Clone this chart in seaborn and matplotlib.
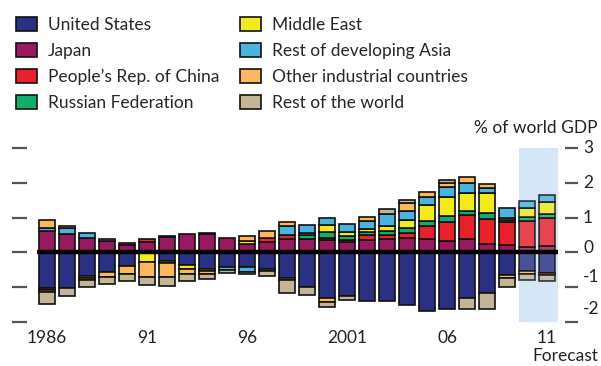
import numpy as np
import seaborn as sns
import matplotlib.pyplot as plt
from matplotlib.patches import Patch

# current account balances, % of world GDP (1986-2011, 2010-11 forecast)
years = np.arange(1986, 2012)
us = [-1.03, -1.01, -0.68, -0.55, -0.39, 0.0, -0.24, -0.37, -0.48, -0.41, -0.43, -0.48, -0.74,
      -0.99, -1.30, -1.24, -1.41, -1.41, -1.51, -1.67, -1.64, -1.31, -1.16, -0.64, -0.54, -0.59]
japan = [0.61, 0.52, 0.42, 0.33, 0.22, 0.31, 0.43, 0.54, 0.53, 0.41, 0.24, 0.31, 0.39,
         0.39, 0.36, 0.29, 0.35, 0.39, 0.42, 0.39, 0.33, 0.39, 0.25, 0.21, 0.16, 0.19]
china = [-0.06, 0.0, 0.0, 0.0, 0.05, 0.08, 0.05, 0.0, 0.03, 0.0, 0.0, 0.11, 0.12,
         0.0, 0.06, 0.07, 0.14, 0.10, 0.14, 0.36, 0.54, 0.68, 0.70, 0.65, 0.75, 0.81]
russia = [0.0, 0.0, 0.0, 0.0, 0.0, 0.0, 0.0, 0.0, 0.0, 0.0, 0.0, 0.0, 0.0,
          0.10, 0.16, 0.10, 0.10, 0.12, 0.14, 0.16, 0.18, 0.12, 0.17, 0.07, 0.10, 0.10]
mideast = [-0.05, 0.0, -0.05, 0.0, 0.0, -0.27, -0.07, -0.12, -0.05, 0.0, 0.08, 0.0, -0.05,
           0.06, 0.21, 0.14, 0.07, 0.14, 0.22, 0.46, 0.54, 0.51, 0.58, 0.05, 0.26, 0.35]
dev_asia = [0.10, 0.17, 0.13, 0.05, 0.0, 0.0, 0.0, 0.0, 0.0, -0.10, -0.14, -0.06, 0.24,
            0.24, 0.21, 0.21, 0.24, 0.36, 0.26, 0.21, 0.28, 0.28, 0.16, 0.31, 0.22, 0.19]
other_ind = [0.21, 0.06, -0.07, -0.15, -0.24, -0.45, -0.39, -0.14, -0.10, 0.0, 0.14, 0.19, 0.13,
             0.0, -0.12, 0.0, 0.13, 0.0, 0.25, 0.17, 0.13, 0.20, 0.10, -0.10, -0.07, -0.07]
rest_world = [-0.33, -0.24, -0.19, -0.21, -0.19, -0.22, -0.26, -0.19, -0.14, -0.08, -0.06, -0.15, -0.39,
              -0.23, -0.14, -0.13, 0.0, 0.13, 0.09, 0.0, 0.07, -0.31, -0.48, -0.26, -0.19, -0.17]

names = ["United States", "Japan", "People\u2019s Rep. of China", "Russian Federation",
         "Middle East", "Rest of developing Asia", "Other industrial countries", "Rest of the world"]
series = [us, japan, china, russia, mideast, dev_asia, other_ind, rest_world]
colors = ["#2B3182", "#98195E", "#E8212A", "#10AE6A", "#F5EB1C", "#4BB4DE", "#FDB85E", "#C4B596"]

tick_years = [1986, 1991, 1996, 2001, 2006, 2011]
tick_names = ["1986", "91", "96", "2001", "06", "11"]
forecast_start = 2010

sns.set_style("white")
plt.rcParams['font.family'] = ['Lato', 'DejaVu Sans']

fig = plt.figure(figsize=(6.01, 3.66), dpi=100)
ax = fig.add_axes([27 / 601, 44 / 366, 538 / 601, 174 / 366])

# forecast shading
ax.axvspan(forecast_start - 0.4, years[-1] + 0.55, color="#D5E7F6", zorder=0, lw=0)

pos_bottom = np.zeros(len(years))
neg_bottom = np.zeros(len(years))
fc = years >= forecast_start
for vals, col in zip(series, colors):
    v = np.array(vals)
    for mask_sign, bottom in ((v > 0, pos_bottom), (v < 0, neg_bottom)):
        for m, alpha in ((mask_sign & ~fc, 1.0), (mask_sign & fc, 0.82)):
            if m.any():
                ax.bar(years[m], v[m], bottom=bottom[m], width=0.8, color=col, alpha=alpha,
                       edgecolor="#111111", linewidth=1.2, zorder=2)
    pos_bottom += np.clip(v, 0, None)
    neg_bottom += np.clip(v, None, 0)

ax.hlines(0, years[0] - 0.5, years[-1] + 0.55, color="black", lw=3.2, zorder=3)

ax.set_xlim(1985.0, 2011.9)
ax.set_ylim(-2, 3)
for s in ax.spines.values():
    s.set_visible(False)

ax.set_xticks(tick_years)
ax.set_xticklabels(tick_names, fontsize=12.5, color="#222222")
ax.tick_params(axis="x", length=0, pad=6)

yt = [-2, -1, 0, 1, 2, 3]
ax.set_yticks(yt)
ax.tick_params(axis="y", left=True, right=True, labelleft=False, labelright=False,
               direction="out", width=1.6, color="#555555")
for t in ax.yaxis.get_major_ticks():
    t.tick1line.set_markersize(10.8)
    t.tick2line.set_markersize(9.4)
label_shift = [9, 7, 3, 0, 0, 0]
for val, dy in zip(yt, label_shift):
    ax.annotate(str(val), xy=(1.0, val), xycoords=("axes fraction", "data"),
                xytext=(13, dy), textcoords="offset points", ha="left", va="center",
                fontsize=12.5, color="#222222")

fig.text(598 / 601, 1 - 128 / 366, "% of world GDP", ha="right", va="center",
         fontsize=12.5, color="#222222")
fig.text(598 / 601, 1 - 356 / 366, "Forecast", ha="right", va="center",
         fontsize=12.5, color="#222222")

handles = [Patch(facecolor=c, edgecolor="#111111", linewidth=1.2) for c in colors]
fig.legend(handles, names, ncol=2, loc="upper left", bbox_to_anchor=(16 / 601, 1 - 17 / 366),
           frameon=False, fontsize=12.5, handlelength=1.2, handleheight=0.9,
           handletextpad=0.65, columnspacing=1.2, labelspacing=0.56, borderpad=0,
           borderaxespad=0)

fig.savefig("out.png", dpi=100)
